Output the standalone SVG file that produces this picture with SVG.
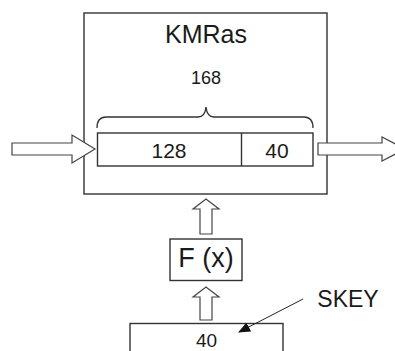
<svg xmlns="http://www.w3.org/2000/svg" width="395" height="351" viewBox="0 0 395 351">
<style>
.box{fill:#fff;stroke:#333;stroke-width:1.4}
.arr{fill:#fff;stroke:#444;stroke-width:1.2}
.t{font-family:"Liberation Sans",Arial,sans-serif;fill:#1a1a1a;text-anchor:middle}
</style>
<defs>
<marker id="ah" markerWidth="12" markerHeight="10" refX="11" refY="5" orient="auto" markerUnits="userSpaceOnUse">
<path d="M0,0 L12,5 L0,10 Z" fill="#111"/>
</marker>
</defs>
<rect width="395" height="351" fill="#fff"/>
<g id="kmras">
<rect class="box" x="84" y="13" width="243" height="181"/>
<text class="t" x="206" y="43" font-size="25">KMRas</text>
<text class="t" x="206" y="84" font-size="18">168</text>
<path d="M97,128 Q97,117 106,117 L198,117 Q205,117 206,107 Q207,117 214,117 L304,117 Q313,117 313,128" fill="none" stroke="#333" stroke-width="1.3"/>
<rect class="box" x="97.5" y="133" width="215.5" height="33"/>
<line x1="241.5" y1="133" x2="241.5" y2="166" stroke="#333" stroke-width="1.4"/>
<text class="t" x="169" y="158" font-size="21">128</text>
<text class="t" x="277" y="158" font-size="21">40</text>
</g>
<g id="fx">
<rect class="box" x="170" y="239" width="72" height="41.5"/>
<text class="t" x="206" y="267" font-size="27">F (x)</text>
</g>
<g id="skey-box">
<rect class="box" x="130" y="323.5" width="153" height="40"/>
<text class="t" x="206.5" y="347" font-size="19">40</text>
</g>
<g id="skey-label">
<text class="t" x="348" y="307" font-size="23">SKEY</text>
</g>
<g id="connectors">
<polygon class="arr" points="12,143 72,143 72,135 95,149 72,163 72,155 12,155"/>
<polygon class="arr" points="318,143 382,143 382,137 405,149 382,161 382,155 318,155"/>
<polygon class="arr" points="200,234 200,209 193,209 206,199 219,209 212,209 212,234"/>
<polygon class="arr" points="200,320 200,297 193,297 206,287 219,297 212,297 212,320"/>
<line x1="303" y1="299" x2="239" y2="332" stroke="#222" stroke-width="1" marker-end="url(#ah)"/>
</g>
</svg>
